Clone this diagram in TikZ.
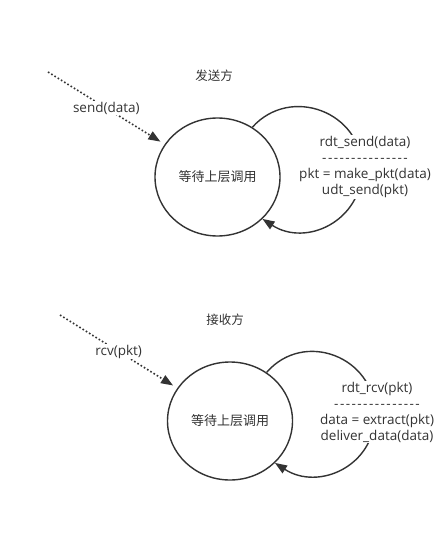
\documentclass[tikz,border=0pt]{standalone}
\usepackage{fontspec}
\setmainfont{Open Sans}
\newfontfamily\cjk{Noto Sans CJK SC}
\usepackage{xcolor}
\usetikzlibrary{positioning, arrows.meta, calc, shapes.geometric}
\definecolor{inkgray}{HTML}{333333}
\newcommand{\sepdashes}{\foreach \k in {1,...,15}{\makebox[5.8pt]{-}}}

\tikzset{
  waitstate/.style={ellipse, draw=inkgray, line width=1.4pt, minimum width=125pt,
    minimum height=118pt, inner sep=0pt, text=inkgray, font=\cjk\fontsize{13}{16}\selectfont},
  selfloop/.style={draw=inkgray, line width=1.4pt, -{Triangle[length=12pt, width=9pt]}},
  dotline/.style={draw=inkgray, line width=1.6pt, dash pattern=on 1.6pt off 2.2pt,
    shorten >=5pt, -{Triangle[length=12pt, width=9pt]}},
  action/.style={fill=white, align=center, text=inkgray, inner sep=1pt,
    font=\fontsize{13.5}{16}\selectfont},
  evlabel/.style={fill=white, text=inkgray, inner sep=1pt, font=\fontsize{13.5}{15}\selectfont},
  side/.style={text=inkgray, font=\cjk\fontsize{12.5}{15}\selectfont}
}

\begin{document}
\begin{tikzpicture}[x=1pt, y=1pt]
  \fill[white] (0,0) rectangle (447,-556);
  \useasboundingbox (0,0) rectangle (447,-556);

  % sender
  \node[side] (sendtitle) at (214,-76) {发送方};
  \node[waitstate] (send) at (217.5,-177) {等待上层调用};
  \coordinate (sendin) at (48,-72);
  \coordinate (sendr) at (362,-169);
  \draw[dotline] (sendin) -- (send) node[evlabel, midway] (sendev) {send(data)};
  \draw[selfloop] (send.55) .. controls +(48:57) and +(90:57) .. (sendr)
    .. controls +(-90:52) and +(-33:52) .. (send.-43);
  \node[action] (sendact) at (365,-167)
    {rdt\_send(data)\\ \sepdashes\\ pkt = make\_pkt(data)\\ udt\_send(pkt)};

  % receiver
  \node[side] (recvtitle) at (225,-320) {接收方};
  \node[waitstate] (recv) at (230,-421) {等待上层调用};
  \coordinate (recvin) at (60,-315);
  \coordinate (recvr) at (375,-414);
  \draw[dotline] (recvin) -- (recv) node[evlabel, midway] (recvev) {rcv(pkt)};
  \draw[selfloop] (recv.53) .. controls +(49:57) and +(90:57) .. (recvr)
    .. controls +(-90:52) and +(-33:52) .. (recv.-43);
  \node[action] (recvact) at (377,-412)
    {rdt\_rcv(pkt)\\ \sepdashes\\ data = extract(pkt)\\ deliver\_data(data)};
\end{tikzpicture}
\end{document}
